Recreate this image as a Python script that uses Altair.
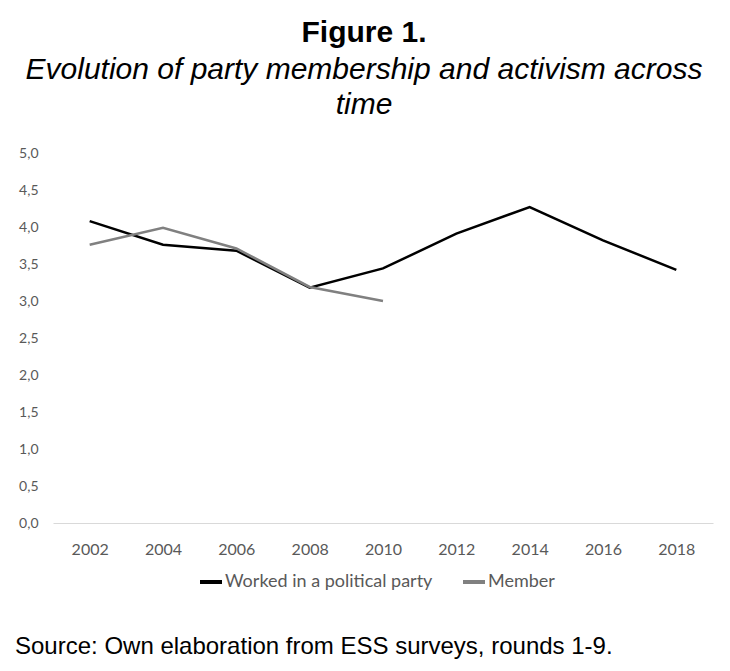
import altair as alt
import pandas as pd

years = [2002, 2004, 2006, 2008, 2010, 2012, 2014, 2016, 2018]
worked = [4.08, 3.76, 3.68, 3.18, 3.44, 3.91, 4.27, 3.82, 3.42]
member_years = [2002, 2004, 2006, 2008, 2010]
member = [3.76, 3.99, 3.71, 3.19, 3.00]
series = ['Worked in a political party', 'Member']
caption_text = 'Source: Own elaboration from ESS surveys, rounds 1-9.'

source = pd.concat([
    pd.DataFrame({'year': years, 'value': worked, 'series': series[0]}),
    pd.DataFrame({'year': member_years, 'value': member, 'series': series[1]}),
])

label_font = 'Lato'
label_color = '#595959'

lines = alt.Chart(source).mark_line(strokeWidth=2.5).encode(
    x=alt.X('year:O', title=None,
            axis=alt.Axis(labelAngle=0, ticks=False, labelPadding=18,
                          domainColor='#d9d9d9', labelFontSize=16,
                          labelFont=label_font, labelColor=label_color)),
    y=alt.Y('value:Q', title=None,
            scale=alt.Scale(domain=[0, 5]),
            axis=alt.Axis(values=[i / 2 for i in range(11)], grid=False,
                          domain=False, ticks=False, labelPadding=15,
                          labelExpr="replace(format(datum.value, '.1f'), '.', ',')",
                          labelFontSize=14, labelFont=label_font,
                          labelColor=label_color)),
    color=alt.Color('series:N',
                    scale=alt.Scale(domain=series, range=['#000000', '#808080']),
                    legend=alt.Legend(orient='none', direction='horizontal',
                                      legendX=145, legendY=416, title=None,
                                      symbolType='stroke', symbolStrokeWidth=4,
                                      symbolSize=484, labelFontSize=18,
                                      labelFont=label_font, labelColor=label_color,
                                      labelLimit=0, columnPadding=22,
                                      labelOffset=1))
)

caption = alt.Chart(pd.DataFrame({'text': [caption_text]})).mark_text(
    align='left', baseline='middle', font='Liberation Sans', fontSize=24, color='#000000'
).encode(
    text='text:N',
    x=alt.value(-38),
    y=alt.value(494)
)

chart = alt.layer(lines, caption).properties(
    width=660, height=370,
    padding={'left': 7, 'top': 10, 'right': 5, 'bottom': 5},
    title=alt.Title(
        'Figure 1.',
        subtitle=['Evolution of party membership and activism across', 'time'],
        font='Liberation Sans', fontSize=30, fontWeight='bold', color='#000000',
        subtitleFont='Liberation Sans', subtitleFontSize=30,
        subtitleFontStyle='italic', subtitleColor='#000000',
        subtitleLineHeight=35, subtitlePadding=7,
        anchor='middle', frame='bounds', offset=26
    )
).configure_view(stroke=None)

chart.save('out.html', embed_options={'renderer': 'svg', 'actions': False})
